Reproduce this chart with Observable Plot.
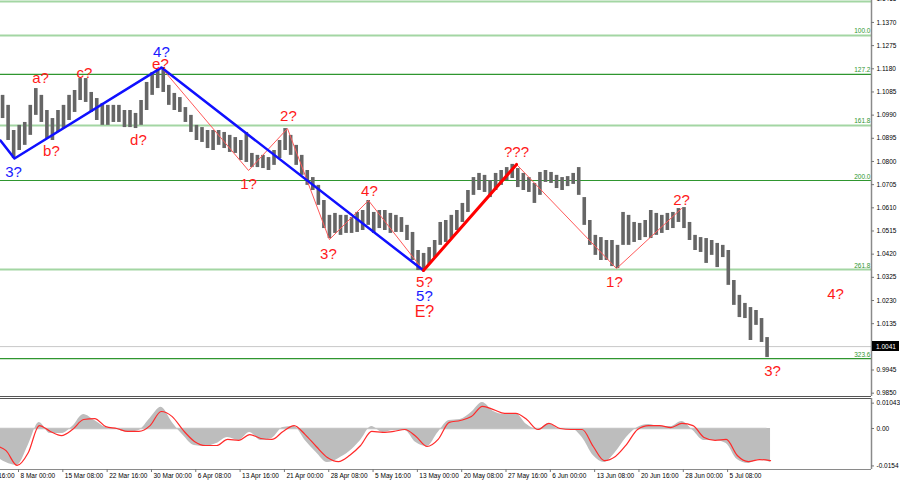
<!DOCTYPE html>
<html><head><meta charset="utf-8">
<script src="https://cdn.jsdelivr.net/npm/d3@7"></script>
<script src="https://cdn.jsdelivr.net/npm/@observablehq/plot@0.6"></script>
<style>
html,body{margin:0;padding:0;background:#fff;}
#chart{width:900px;height:485px;overflow:hidden;}
#chart svg{display:block;}
</style></head><body><div id="chart"></div>
<script>
// ---- price bars (H4, grouped by 4 bars) ----
const priceHigh = [1.1071,1.1030,1.0927,1.0948,1.0960,1.1030,1.1099,1.1071,1.1009,1.0976,
1.1009,1.1030,1.1071,1.1091,1.1140,1.1140,1.1083,1.1058,1.1038,1.1030,
1.1030,1.1030,1.1009,1.1009,1.0997,1.1050,1.1124,1.1165,1.1181,1.1185,
1.1112,1.1079,1.1062,1.1021,1.0989,1.0948,1.0939,1.0927,1.0927,1.0927,
1.0919,1.0907,1.0898,1.0886,1.0919,1.0833,1.0825,1.0825,1.0816,1.0845,
1.0886,1.0935,1.0907,1.0866,1.0825,1.0763,1.0734,1.0702,1.0640,1.0579,
1.0587,1.0579,1.0579,1.0570,1.0591,1.0599,1.0640,1.0591,1.0599,1.0599,
1.0587,1.0579,1.0570,1.0538,1.0509,1.0435,1.0423,1.0447,1.0476,1.0550,
1.0558,1.0579,1.0599,1.0628,1.0681,1.0734,1.0751,1.0743,1.0722,1.0751,
1.0763,1.0775,1.0788,1.0771,1.0751,1.0734,1.0710,1.0755,1.0763,1.0755,
1.0743,1.0734,1.0738,1.0751,1.0775,1.0652,1.0558,1.0497,1.0488,1.0476,
1.0476,1.0456,1.0591,1.0579,1.0550,1.0546,1.0558,1.0599,1.0587,1.0579,
1.0587,1.0591,1.0607,1.0611,1.0550,1.0497,1.0488,1.0484,1.0476,1.0464,
1.0456,1.0435,1.0312,1.0251,1.0218,1.0201,1.0189,1.0156,1.0078];
const priceLow = [1.0976,1.0886,1.0812,1.0845,1.0866,1.0907,1.0989,1.0960,1.0894,1.0886,
1.0919,1.0935,1.0968,1.1001,1.1050,1.1042,1.1001,1.0968,1.0948,1.0948,
1.0960,1.0960,1.0939,1.0939,1.0935,1.0948,1.1009,1.1071,1.1099,1.1083,
1.1030,1.1009,1.1001,1.0960,1.0919,1.0886,1.0878,1.0853,1.0845,1.0866,
1.0853,1.0837,1.0833,1.0804,1.0796,1.0775,1.0775,1.0771,1.0763,1.0784,
1.0812,1.0845,1.0825,1.0784,1.0743,1.0702,1.0681,1.0620,1.0525,1.0484,
1.0505,1.0497,1.0505,1.0505,1.0509,1.0517,1.0538,1.0505,1.0525,1.0517,
1.0505,1.0509,1.0509,1.0476,1.0394,1.0353,1.0353,1.0378,1.0406,1.0456,
1.0468,1.0484,1.0517,1.0550,1.0591,1.0661,1.0681,1.0673,1.0652,1.0681,
1.0702,1.0722,1.0730,1.0693,1.0681,1.0673,1.0628,1.0661,1.0714,1.0710,
1.0689,1.0681,1.0697,1.0706,1.0661,1.0538,1.0456,1.0415,1.0394,1.0394,
1.0369,1.0361,1.0456,1.0456,1.0468,1.0476,1.0488,1.0484,1.0497,1.0505,
1.0517,1.0525,1.0550,1.0525,1.0476,1.0435,1.0427,1.0382,1.0415,1.0365,
1.0406,1.0292,1.0210,1.0160,1.0156,1.0066,1.0128,1.0058,0.9996];
const lastPrice = 1.0041;

// ---- wave lines (bar index, price) ----
const blueWaveBar   = [0, 10.1, 116.2, 305.4];
const blueWavePrice = [1.0886, 1.0812, 1.1185, 1.0353];
const redBoldBar    = [305.4, 372.6];
const redBoldPrice  = [1.0353, 1.0788];
const redThinABar   = [116.2, 179.1, 207.2, 237.5, 265.7, 305.4];
const redThinAPrice = [1.1185, 1.0763, 1.0935, 1.0480, 1.0640, 1.0353];
const redThinBBar   = [372.6, 444.8, 491.7];
const redThinBPrice = [1.0788, 1.0361, 1.0607];

// ---- wave labels ----
const redLabelText  = ["a?","b?","c?","d?","e?","1?","2?","3?","4?","5?","???","1?","2?","4?","3?"];
const redLabelBar   = [28.9,36.8,60.6,99.6,115.5,179.1,207.9,236.8,266.4,306.1,372.6,443.3,491.7,602.9,557.4];
const redLabelPrice = [1.1140,1.0841,1.1161,1.0886,1.1198,1.0706,1.0984,1.0419,1.0677,1.0304,1.0837,1.0304,1.0640,1.0255,0.9939];
const blueLabelText  = ["3?","4?","5?"];
const blueLabelBar   = [9.4,116.2,306.1];
const blueLabelPrice = [1.0755,1.1247,1.0246];
const bigLabelText  = ["E?"];
const bigLabelBar   = [306.1];
const bigLabelPrice = [1.0185];

// ---- Fibonacci levels ----
const levelLabel = ["76.4","100.0","127.2","161.8","200.0","261.8","323.6"];
const levelPrice = [1.1456,1.1317,1.1157,1.0948,1.0722,1.0357,0.9992];

// ---- axes ----
const priceTicks = [1.1465,1.1370,1.1275,1.1180,1.1085,1.0990,1.0895,1.0800,1.0705,1.0610,1.0515,1.0420,1.0325,1.0230,1.0135,0.9945,0.9850];
const timeTickBar = [-19,13,45,77,109,141,173,205,237,269,301,333,365,397,429,461,493,525];
const timeTickLabel = ["28 Feb 16:00","8 Mar 00:00","15 Mar 08:00","22 Mar 16:00","30 Mar 00:00","6 Apr 08:00","13 Apr 16:00","21 Apr 00:00","28 Apr 08:00","5 May 16:00","13 May 00:00","20 May 08:00","27 May 16:00","6 Jun 00:00","13 Jun 08:00","20 Jun 16:00","28 Jun 00:00","5 Jul 08:00"];

// ---- MACD (every 8 bars, starting at bar -4) ----
const macdHist = [-0.0111,-0.0140,-0.0152,-0.0070,0.0025,-0.0021,-0.0021,0.0008,0.0058,0.0033,
0.0004,-0.0004,-0.0016,-0.0008,0.0041,0.0087,0.0025,-0.0029,-0.0070,-0.0074,
-0.0062,-0.0037,-0.0049,-0.0016,-0.0049,-0.0041,0.0004,0.0008,-0.0049,-0.0099,
-0.0140,-0.0124,-0.0095,-0.0049,0.0008,-0.0016,-0.0008,-0.0008,-0.0058,-0.0074,
-0.0016,0.0033,0.0037,0.0066,0.0107,0.0070,0.0058,0.0062,0.0016,-0.0004,
0.0021,-0.0004,0.0000,-0.0037,-0.0111,-0.0140,-0.0099,-0.0037,0.0004,0.0016,
0.0008,0.0008,0.0029,-0.0008,-0.0049,-0.0049,-0.0062,-0.0128,-0.0144,-0.0128,
-0.0140];
const macdSignal = [-0.0070,-0.0091,-0.0152,-0.0100,0.0012,-0.0012,-0.0029,-0.0004,0.0037,0.0041,
0.0008,0.0000,-0.0012,-0.0012,0.0012,0.0070,0.0049,-0.0008,-0.0053,-0.0070,
-0.0070,-0.0045,-0.0049,-0.0025,-0.0041,-0.0045,-0.0012,0.0012,-0.0025,-0.0074,
-0.0119,-0.0136,-0.0111,-0.0070,-0.0012,-0.0016,-0.0012,-0.0004,-0.0033,-0.0074,
-0.0045,0.0025,0.0033,0.0049,0.0091,0.0078,0.0062,0.0062,0.0037,-0.0004,
0.0021,0.0000,-0.0004,-0.0004,-0.0074,-0.0132,-0.0115,-0.0066,-0.0004,0.0012,
0.0012,0.0004,0.0021,0.0012,-0.0037,-0.0049,-0.0045,-0.0111,-0.0136,-0.0128,
-0.0132];
const macdTicks = [0.01043, 0, -0.0154];
const macdTickLabel = ["0.01043","0.00","-0.0154"];

// ---- build tables ----
const bars = priceHigh.map((h,i)=>({bar: i*4+1.5, high: h, low: priceLow[i]}));
const zip = (b,p,t) => b.map((v,i)=>({bar: v, price: p[i], text: t ? t[i] : null}));
const blueWave = zip(blueWaveBar, blueWavePrice);
const redBold = zip(redBoldBar, redBoldPrice);
const redThinA = zip(redThinABar, redThinAPrice);
const redThinB = zip(redThinBBar, redThinBPrice);
const redLabels = zip(redLabelBar, redLabelPrice, redLabelText);
const blueLabels = zip(blueLabelBar, blueLabelPrice, blueLabelText);
const bigLabels = zip(bigLabelBar, bigLabelPrice, bigLabelText);
const levels = levelLabel.map((l,i)=>({label: l, price: levelPrice[i]}));
const lightSet = new Set(["76.4","100.0","161.8","261.8"]);
const macd = macdHist.map((h,j)=>({bar: j*8-4, hist: h, signal: macdSignal[j]}));
const timeTicks = timeTickBar.map((b,i)=>({bar: b, label: timeTickLabel[i]}));
const lastBar = bars[bars.length-1].bar;

const XMAX = 628.9;
const FONT = "Liberation Sans, Arial, sans-serif";
const GREEN_D = "#2f962f", GREEN_L = "#a3d6a3";

function priceTag(index, scales, values, dims) {
  const ns = "http://www.w3.org/2000/svg";
  const y = Math.round(scales.y(lastPrice));
  const x = dims.width - dims.marginRight;
  const g = document.createElementNS(ns, "g");
  const r = document.createElementNS(ns, "rect");
  r.setAttribute("x", x + 1); r.setAttribute("y", y - 5);
  r.setAttribute("width", 27); r.setAttribute("height", 10);
  r.setAttribute("fill", "#000");
  const t = document.createElementNS(ns, "text");
  t.setAttribute("x", x + 5); t.setAttribute("y", y + 2.5);
  t.setAttribute("text-anchor", "start");
  t.setAttribute("fill", "#fff"); t.setAttribute("font-size", "6.5px");
  t.setAttribute("font-family", FONT);
  t.textContent = lastPrice.toFixed(4);
  g.appendChild(r); g.appendChild(t);
  return g;
}

const main = Plot.plot({
  width: 900, height: 397,
  marginLeft: 0, marginRight: 29, marginTop: 0, marginBottom: 1,
  x: {domain: [0, XMAX], axis: null},
  y: {domain: [0.98364, 1.1460], axis: null},
  style: {fontFamily: FONT, fontSize: "6.5px", background: "#fff", overflow: "hidden"},
  marks: [
    Plot.ruleY(levels.filter(d=>lightSet.has(d.label)), {y: "price", stroke: GREEN_L, strokeWidth: 2}),
    Plot.ruleY(levels.filter(d=>!lightSet.has(d.label)), {y: "price", stroke: GREEN_D, strokeWidth: 1.2}),
    Plot.ruleY([lastPrice], {stroke: "#c8c8c8", strokeWidth: 1}),
    Plot.ruleX(bars, {x: "bar", y1: "low", y2: "high", stroke: "#666666", strokeWidth: 3.6}),
    Plot.line(redThinA, {x: "bar", y: "price", stroke: "#ff5a5a", strokeWidth: 1}),
    Plot.line(redThinB, {x: "bar", y: "price", stroke: "#ff5a5a", strokeWidth: 1}),
    Plot.line(blueWave, {x: "bar", y: "price", stroke: "#1010ff", strokeWidth: 2.5}),
    Plot.line(redBold, {x: "bar", y: "price", stroke: "#ff0000", strokeWidth: 3}),
    Plot.text(redLabels, {x: "bar", y: "price", text: "text", fill: "#ff1a1a", fontSize: 15, fontFamily: FONT}),
    Plot.text(blueLabels, {x: "bar", y: "price", text: "text", fill: "#1a1aff", fontSize: 15, fontFamily: FONT}),
    Plot.text(bigLabels, {x: "bar", y: "price", text: "text", fill: "#ff1a1a", fontSize: 16, fontFamily: FONT}),
    Plot.text(levels, {y: "price", frameAnchor: "right", text: "label", textAnchor: "end", dx: -1, dy: -4, fill: GREEN_D, fontSize: 6.5}),
    Plot.ruleY([0.98364], {stroke: "#555", strokeWidth: 1.2}),
    Plot.ruleX([XMAX], {stroke: "#8a8a8a", strokeWidth: 1.5}),
    Plot.ruleY(priceTicks, {stroke: "#777", insetLeft: 871, insetRight: -3}),
    Plot.text(priceTicks, {y: d=>d, frameAnchor: "right", text: d=>d.toFixed(4), textAnchor: "start", dx: 5, fill: "#000", fontSize: 6.5}),
    priceTag
  ]
});

const ind = Plot.plot({
  width: 900, height: 88,
  marginLeft: 0, marginRight: 29, marginTop: 1, marginBottom: 16,
  x: {domain: [0, XMAX], axis: null},
  y: {domain: [-0.01687, 0.01235], axis: null},
  style: {fontFamily: FONT, fontSize: "6.5px", background: "#fff", overflow: "hidden"},
  marks: [
    Plot.areaY(macd, {x: "bar", y: "hist", fill: "#bdbdbd", curve: "monotone-x"}),
    Plot.ruleY([0], {x1: 0, x2: lastBar, stroke: "#c4c4c4", strokeWidth: 1.5}),
    Plot.line(macd, {x: "bar", y: "signal", stroke: "#ff2a2a", strokeWidth: 1.2, curve: "monotone-x"}),
    Plot.ruleY([0.01235], {stroke: "#555", strokeWidth: 1.2}),
    Plot.ruleY([-0.01687], {stroke: "#8a8a8a", strokeWidth: 1.2}),
    Plot.ruleX([XMAX], {stroke: "#8a8a8a", strokeWidth: 1.5}),
    Plot.ruleY(macdTicks, {stroke: "#777", insetLeft: 871, insetRight: -3}),
    Plot.text(macdTicks, {y: d=>d, frameAnchor: "right", text: (d,i)=>macdTickLabel[i], textAnchor: "start", dx: 5, fill: "#000", fontSize: 6.5}),
    Plot.ruleX(timeTicks, {x: "bar", stroke: "#777", insetTop: 71, insetBottom: -3}),
    Plot.text(timeTicks, {x: "bar", frameAnchor: "bottom", text: "label", textAnchor: "start", dx: 2, dy: 8, fill: "#000", fontSize: 6.5})
  ]
});

const c = document.getElementById("chart");
c.appendChild(main);
c.appendChild(ind);
</script></body></html>
